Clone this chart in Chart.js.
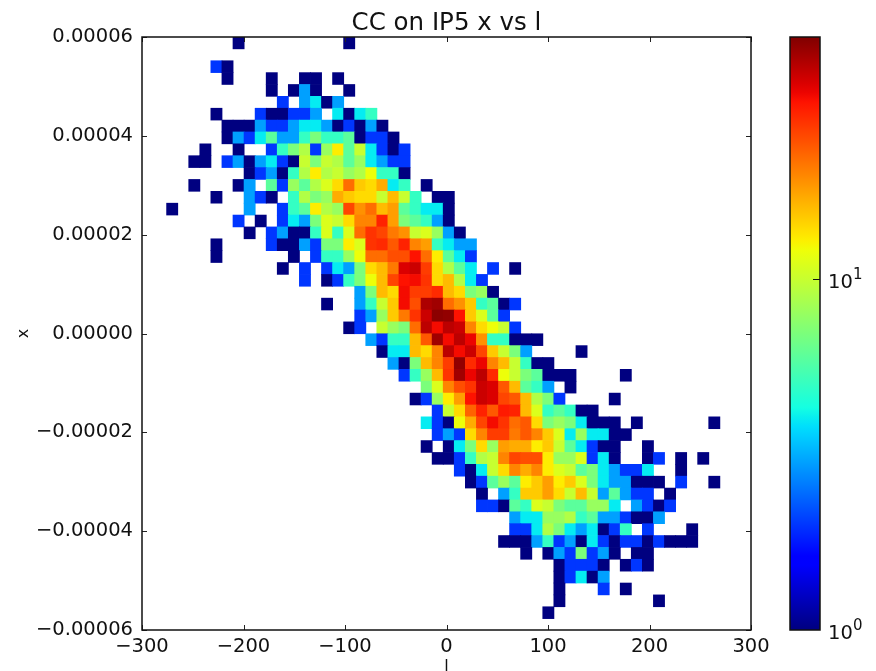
<!DOCTYPE html>
<html>
<head>
<meta charset="utf-8">
<script src="https://cdn.jsdelivr.net/npm/chart.js@4"></script>
<style>
body { margin: 0; background: #fff; }
canvas { position: absolute; top: 0; }
</style>
</head>
<body>
<canvas id="histChart" width="876" height="671" style="left:0"></canvas>
<canvas id="barChart" width="96" height="671" style="left:780px"></canvas>
<script>
const xTicks = [-300, -200, -100, 0, 100, 200, 300];
const yTicks = [-0.00006, -0.00004, -0.00002, 0, 0.00002, 0.00004, 0.00006];

// histogram bins
const xBinStart = -275.7;
const xBinWidth = 10.9;
const yBinTop = 0.00006;
const yBinHeight = 0.000002402;
const maxCount = 49;

// first filled column of each row, top row first
const rowStart = [6, 0, 4, 5, 9, 10, 4, 5, 5, 3, 2, 7, 2, 4, 0, 6, 7, 4, 4, 10, 12, 17, 14, 17, 16,
    18, 19, 20, 21, 23, 22, 24, 23, 24, 23, 24, 26, 27, 28, 28, 31, 31, 30, 32, 35, 35, 35, 35, 34];

// counts per row
const rowCounts = [
    [1, 0, 0, 0, 0, 0, 0, 0, 0, 0, 1],
    [],
    [2, 1],
    [1, 0, 0, 0, 1, 0, 0, 1, 1, 0, 1],
    [1, 0, 1, 3, 1, 0, 0, 1],
    [2, 0, 3, 4, 1, 3],
    [1, 0, 0, 0, 2, 1, 1, 2, 2, 3, 0, 4, 1, 4, 5],
    [1, 1, 1, 3, 2, 2, 3, 4, 4, 3, 1, 2, 1, 3, 1],
    [1, 3, 2, 4, 6, 3, 3, 5, 7, 5, 5, 6, 1, 2, 2, 1],
    [1, 0, 0, 1, 0, 0, 2, 5, 7, 9, 2, 8, 13, 6, 10, 4, 2, 1, 2],
    [1, 1, 0, 2, 3, 1, 3, 4, 2, 1, 10, 7, 10, 9, 6, 8, 4, 3, 2, 2],
    [1, 2, 3, 1, 5, 9, 13, 9, 10, 8, 9, 12, 5, 5, 1],
    [1, 0, 0, 0, 1, 3, 0, 6, 2, 8, 6, 9, 11, 14, 22, 15, 14, 17, 4, 5, 0, 1],
    [1, 0, 0, 3, 2, 1, 0, 5, 9, 7, 8, 17, 15, 14, 14, 10, 16, 10, 5, 0, 1, 1],
    [1, 0, 0, 0, 0, 0, 0, 3, 0, 0, 2, 5, 6, 13, 9, 8, 26, 19, 22, 16, 18, 6, 5, 4, 4, 1],
    [2, 0, 1, 0, 2, 4, 3, 7, 11, 10, 14, 20, 20, 30, 18, 7, 6, 5, 3, 1],
    [1, 0, 2, 3, 1, 1, 5, 11, 5, 11, 22, 28, 26, 21, 19, 10, 11, 8, 3, 1],
    [1, 0, 0, 0, 0, 2, 1, 1, 3, 2, 7, 7, 13, 11, 28, 29, 24, 30, 20, 18, 5, 4, 3, 3],
    [1, 0, 0, 0, 0, 0, 0, 1, 0, 2, 5, 5, 8, 12, 22, 22, 25, 25, 32, 22, 13, 6, 4, 2],
    [1, 0, 2, 0, 2, 4, 3, 7, 14, 16, 21, 36, 38, 27, 14, 9, 6, 4, 0, 2, 0, 1],
    [2, 0, 1, 2, 5, 7, 12, 16, 26, 32, 33, 28, 14, 16, 9, 4, 2],
    [3, 7, 16, 14, 33, 27, 27, 29, 16, 14, 7, 8, 1],
    [1, 0, 0, 3, 5, 10, 15, 33, 25, 42, 44, 22, 19, 15, 5, 6, 1, 2],
    [2, 3, 8, 15, 21, 28, 38, 47, 46, 32, 15, 11, 6, 2],
    [1, 2, 0, 10, 8, 7, 22, 40, 33, 40, 38, 20, 14, 12, 10, 2],
    [3, 2, 5, 5, 16, 24, 44, 33, 40, 34, 19, 5, 5, 1, 1, 1],
    [1, 4, 4, 16, 14, 20, 40, 33, 38, 26, 15, 10, 7, 3, 0, 0, 0, 0, 1],
    [3, 1, 7, 16, 20, 27, 46, 29, 34, 20, 16, 10, 5, 1, 1],
    [2, 5, 8, 16, 28, 44, 34, 40, 29, 12, 10, 7, 6, 1, 1, 1, 0, 0, 0, 0, 1],
    [7, 11, 20, 25, 28, 38, 36, 24, 16, 6, 5, 3, 0, 1],
    [1, 2, 8, 13, 18, 32, 38, 36, 26, 24, 16, 9, 7, 2, 0, 0, 0, 0, 1],
    [2, 10, 14, 23, 30, 24, 31, 30, 16, 11, 5, 6, 5, 1, 1],
    [4, 2, 1, 12, 17, 26, 33, 28, 22, 24, 14, 7, 8, 7, 4, 1, 1, 1, 0, 1, 0, 0, 0, 0, 0, 0, 1],
    [2, 3, 2, 14, 20, 27, 27, 21, 24, 20, 15, 11, 4, 8, 4, 4, 1, 1],
    [1, 0, 1, 4, 7, 14, 8, 18, 17, 17, 13, 15, 10, 6, 4, 2, 1, 1, 0, 0, 1],
    [1, 1, 2, 5, 9, 10, 20, 26, 25, 25, 13, 8, 8, 11, 2, 4, 1, 0, 0, 1, 2, 0, 1, 0, 1],
    [2, 1, 4, 10, 14, 20, 17, 20, 13, 11, 10, 6, 7, 4, 3, 2, 2, 4, 0, 0, 1],
    [1, 2, 6, 8, 6, 13, 15, 18, 13, 15, 11, 7, 4, 3, 3, 1, 1, 1, 0, 2, 0, 0, 1],
    [1, 0, 3, 5, 15, 15, 18, 14, 10, 16, 10, 3, 6, 3, 2, 2, 0, 1],
    [2, 2, 1, 6, 5, 11, 10, 7, 6, 6, 8, 8, 4, 0, 3, 2, 1, 2],
    [3, 4, 4, 8, 8, 9, 5, 6, 3, 3, 2, 1, 1, 3],
    [2, 2, 4, 9, 7, 4, 3, 4, 1, 2, 5, 0, 2, 0, 0, 0, 1],
    [1, 1, 1, 3, 5, 2, 3, 1, 4, 2, 1, 2, 2, 1, 2, 1, 1, 1],
    [1, 0, 1, 3, 2, 7, 2, 3, 1, 0, 1, 1],
    [1, 2, 2, 2, 1, 0, 1, 2, 1],
    [1, 2, 4, 1, 3],
    [1, 0, 0, 0, 2, 0, 1],
    [1, 0, 0, 0, 0, 0, 0, 0, 0, 1],
    [1]
];

function jetPart(stops, t) {
    for (var i = 1; i < stops.length; i++) {
        if (t <= stops[i][0]) {
            var a = stops[i - 1];
            var b = stops[i];
            return a[1] + (b[1] - a[1]) * (t - a[0]) / (b[0] - a[0]);
        }
    }
    return stops[stops.length - 1][1];
}

function jet(t) {
    var r = jetPart([[0, 0], [0.35, 0], [0.66, 1], [0.89, 1], [1, 0.5]], t);
    var g = jetPart([[0, 0], [0.125, 0], [0.375, 1], [0.64, 1], [0.91, 0], [1, 0]], t);
    var b = jetPart([[0, 0.5], [0.11, 1], [0.34, 1], [0.65, 0], [1, 0]], t);
    return 'rgb(' + Math.round(r * 255) + ',' + Math.round(g * 255) + ',' + Math.round(b * 255) + ')';
}

var cells = [];
var cellColors = [];
for (var j = 0; j < rowCounts.length; j++) {
    for (var k = 0; k < rowCounts[j].length; k++) {
        var count = rowCounts[j][k];
        if (count == 0) continue;
        var col = rowStart[j] + k;
        cells.push({
            x: xBinStart + (col + 0.5) * xBinWidth,
            y: [yBinTop - (j + 1) * yBinHeight, yBinTop - j * yBinHeight]
        });
        cellColors.push(jet(Math.log(count) / Math.log(maxCount)));
    }
}

// matplotlib style ticks point inwards, and there is a frame
const framePlugin = {
    id: 'frame',
    afterDatasetsDraw(chart) {
        var area = chart.chartArea;
        var ctx = chart.ctx;
        ctx.save();
        ctx.strokeStyle = '#222';
        ctx.lineWidth = 1;
        ctx.beginPath();
        chart.scales.x.ticks.forEach(function (t) {
            var px = Math.round(chart.scales.x.getPixelForValue(t.value)) + 0.5;
            ctx.moveTo(px, area.bottom);
            ctx.lineTo(px, area.bottom - 5);
            ctx.moveTo(px, area.top);
            ctx.lineTo(px, area.top + 5);
        });
        chart.scales.y.ticks.forEach(function (t) {
            var py = Math.round(chart.scales.y.getPixelForValue(t.value)) + 0.5;
            ctx.moveTo(area.left, py);
            ctx.lineTo(area.left + 5, py);
            ctx.moveTo(area.right, py);
            ctx.lineTo(area.right - 5, py);
        });
        ctx.stroke();
        ctx.lineWidth = 1.5;
        ctx.strokeStyle = '#111';
        ctx.strokeRect(area.left, area.top, area.right - area.left, area.bottom - area.top);
        ctx.restore();
    }
};

const tickFont = { family: 'DejaVu Sans', size: 19.5 };
const noGrid = { display: false, drawBorder: false };

new Chart(document.getElementById('histChart'), {
    type: 'bar',
    data: {
        datasets: [{
            data: cells,
            backgroundColor: cellColors,
            barThickness: 11.2,
            grouped: false,
            borderWidth: 0
        }]
    },
    options: {
        responsive: false,
        animation: false,
        layout: { padding: { right: 125 } },
        plugins: {
            legend: { display: false },
            tooltip: { enabled: false },
            title: {
                display: true,
                text: 'CC on IP5 x vs l',
                fullSize: false,
                color: '#111',
                font: { family: 'DejaVu Sans', size: 24.5, weight: 'normal' },
                padding: { top: 9, bottom: -1.4 }
            }
        },
        scales: {
            x: {
                type: 'linear',
                min: -300,
                max: 300,
                offset: false,
                afterFit(axis) { axis.height = 41; },
                afterBuildTicks(axis) { axis.ticks = xTicks.map(function (v) { return { value: v }; }); },
                grid: noGrid,
                border: { display: false },
                title: { display: true, text: 'l', color: '#111', font: { family: 'DejaVu Sans', size: 16 }, padding: { top: 0, bottom: -5 } },
                ticks: {
                    color: '#111',
                    font: tickFont,
                    padding: -3,
                    maxRotation: 0,
                    autoSkip: false,
                    callback: function (v) { return String(v).replace('-', '\u2212'); }
                }
            },
            y: {
                type: 'linear',
                min: -0.00006,
                max: 0.00006,
                afterFit(axis) { axis.width = 142; },
                afterBuildTicks(axis) { axis.ticks = yTicks.map(function (v) { return { value: v }; }); },
                grid: noGrid,
                border: { display: false },
                title: { display: true, text: 'x', color: '#111', font: { family: 'DejaVu Sans', size: 16 }, padding: { top: 14, bottom: 0 } },
                ticks: {
                    color: '#111',
                    font: tickFont,
                    padding: 1,
                    autoSkip: false,
                    callback: function (v) { return v.toFixed(5).replace('-', '\u2212'); }
                }
            }
        }
    },
    plugins: [framePlugin]
});

// colour bar
const barPlugin = {
    id: 'barFrame',
    afterDatasetsDraw(chart) {
        var area = chart.chartArea;
        var ctx = chart.ctx;
        var scale = chart.scales.y;
        ctx.save();
        ctx.strokeStyle = '#111';
        ctx.lineWidth = 1.5;
        ctx.strokeRect(area.left, area.top, area.right - area.left, area.bottom - area.top);
        ctx.lineWidth = 1;
        var py = Math.round(scale.getPixelForValue(10)) + 0.5;
        ctx.beginPath();
        ctx.moveTo(area.right, py);
        ctx.lineTo(area.right - 7, py);
        ctx.stroke();
        // exponents of the tick labels
        ctx.fillStyle = '#111';
        ctx.font = '15px "DejaVu Sans"';
        ctx.fillText('1', area.right + 33, scale.getPixelForValue(10));
        ctx.fillText('0', area.right + 33, scale.getPixelForValue(1));
        ctx.restore();
    }
};

function barGradient(context) {
    var area = context.chart.chartArea;
    if (!area) return '#000080';
    var grad = context.chart.ctx.createLinearGradient(0, area.bottom, 0, area.top);
    for (var i = 0; i <= 64; i++) {
        grad.addColorStop(i / 64, jet(i / 64));
    }
    return grad;
}

new Chart(document.getElementById('barChart'), {
    type: 'bar',
    data: {
        labels: ['count'],
        datasets: [{
            data: [[1, maxCount]],
            backgroundColor: barGradient,
            barPercentage: 1,
            categoryPercentage: 1,
            borderWidth: 0
        }]
    },
    options: {
        responsive: false,
        animation: false,
        layout: { padding: { left: 10, top: 37, bottom: 41 } },
        plugins: { legend: { display: false }, tooltip: { enabled: false } },
        scales: {
            x: { display: false },
            y: {
                type: 'logarithmic',
                position: 'right',
                min: 1,
                max: maxCount,
                afterFit(axis) { axis.width = 56; },
                afterBuildTicks(axis) { axis.ticks = [{ value: 1 }, { value: 10 }]; },
                grid: noGrid,
                border: { display: false },
                ticks: {
                    color: '#111',
                    font: tickFont,
                    padding: 0,
                    labelOffset: 4,
                    autoSkip: false,
                    callback: function () { return '10'; }
                }
            }
        }
    },
    plugins: [barPlugin]
});
</script>
</body>
</html>
